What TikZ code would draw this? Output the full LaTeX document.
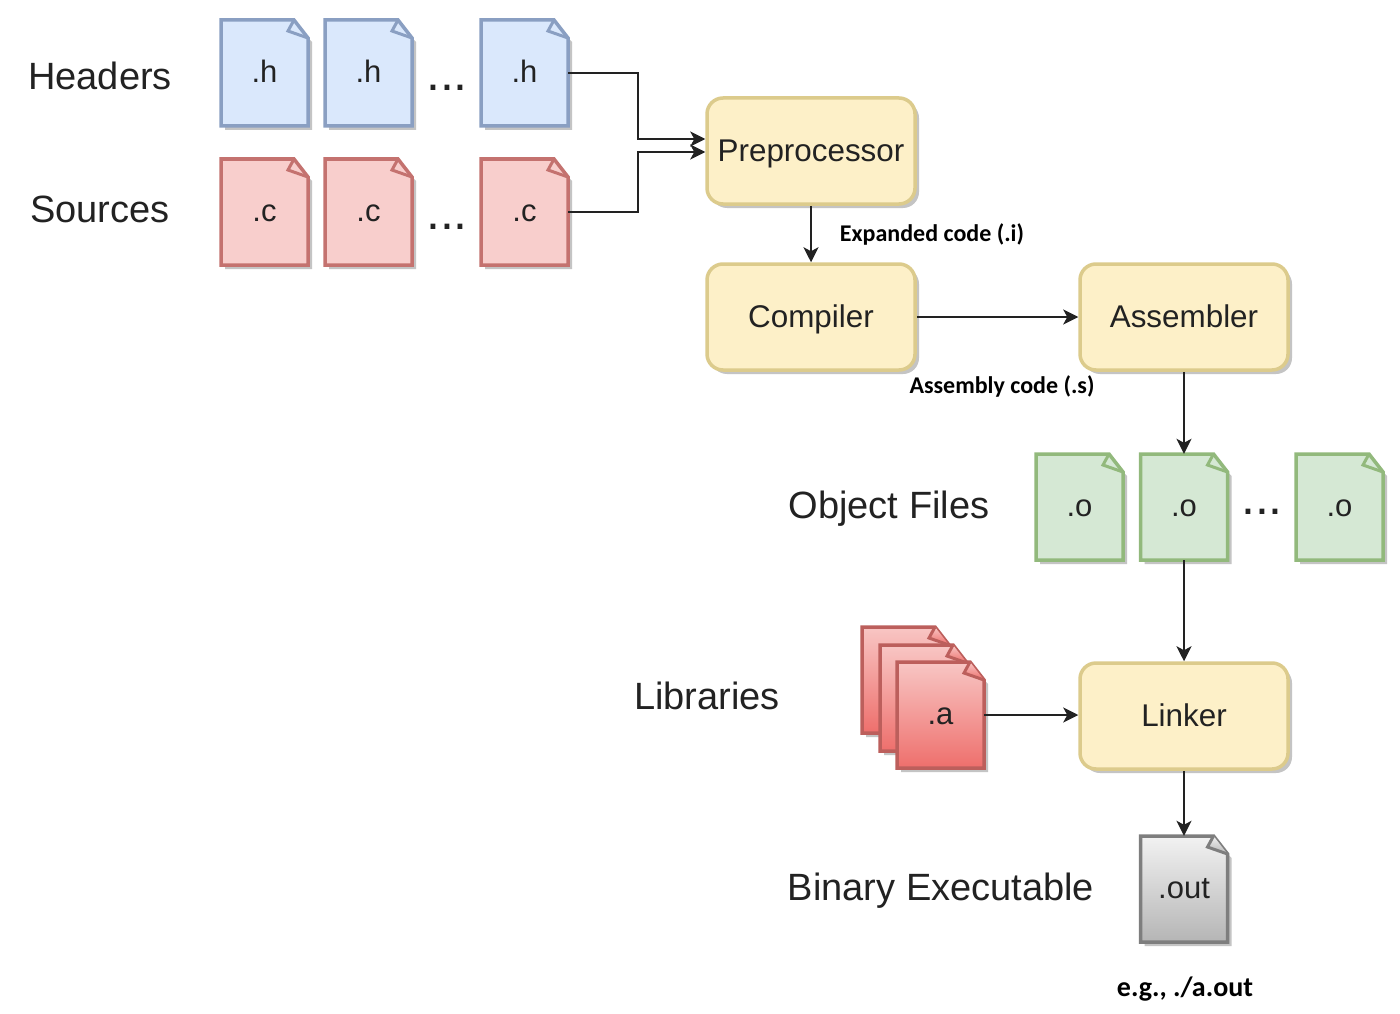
\documentclass[tikz,border=0pt]{standalone}
\usepackage{fontspec}
\setmainfont{Liberation Sans}
\newfontfamily\lblfont{Carlito}[BoldFont={Carlito Bold}]
\usetikzlibrary{arrows.meta,calc}
\definecolor{inkc}{HTML}{222222}
\definecolor{shadowc}{HTML}{C4C4C4}
\tikzset{
  x=1pt,y=-1pt,
  docbody/.style={line width=3.5pt,line join=miter},
  bluedoc/.style={docbody,draw=bluedraw,fill=bluefill},
  reddoc/.style={docbody,draw=reddraw,fill=redfill},
  greendoc/.style={docbody,draw=greendraw,fill=greenfill},
  libdoc/.style={docbody,draw=libdraw,top color=libtop,bottom color=libbot},
  graydoc/.style={docbody,draw=graydraw,top color=graytop,bottom color=graybot},
  doclabel/.style={inner sep=0pt,minimum width=87pt,minimum height=106pt,text height=19pt,text depth=0pt,
     font=\fontsize{31}{32}\selectfont,text=inkc},
  stagebox/.style={rounded corners=16pt,draw=stagedraw,line width=3.5pt,fill=stagefill,
     minimum width=208pt,minimum height=106pt,inner sep=0pt,text height=21.5pt,text depth=0pt,
     font=\fontsize{31.4}{34}\selectfont,text=inkc},
  grouplabel/.style={inner sep=0pt,text height=26.5pt,text depth=0pt,font=\fontsize{38}{40}\selectfont,text=inkc},
  dotslabel/.style={inner sep=0pt,font=\fontsize{50}{50}\selectfont,text=inkc},
  notelabel/.style={inner sep=0pt,font=\lblfont\bfseries\fontsize{24}{26}\selectfont,text=black},
  notebig/.style={notelabel,font=\lblfont\bfseries\fontsize{28}{30}\selectfont},
  flow/.style={line width=2pt,draw=inkc,-{Stealth[length=15pt,width=15pt,inset=4pt]}},
}
\definecolor{bluedraw}{HTML}{8A9FC2}\definecolor{bluefill}{HTML}{DAE8FC}
\definecolor{reddraw}{HTML}{C4726F}\definecolor{redfill}{HTML}{F8CECC}
\definecolor{greendraw}{HTML}{92B97C}\definecolor{greenfill}{HTML}{D5E8D4}
\definecolor{libdraw}{HTML}{BC5F5C}\definecolor{libtop}{HTML}{F8C6C4}\definecolor{libbot}{HTML}{EE6F6C}
\definecolor{graydraw}{HTML}{7E7E7E}\definecolor{graytop}{HTML}{F2F2F2}\definecolor{graybot}{HTML}{B5B5B5}
\definecolor{stagedraw}{HTML}{DCCB8C}\definecolor{stagefill}{HTML}{FDF0C8}
\newcommand\docnode[5]{%
  \begin{scope}[shift={(#2,#3)}]
    \fill[shadowc] (4,4) -- (74,4) -- (91,22) -- (91,110) -- (4,110) -- cycle;
    \path[#4] (0,0) -- (73,0) -- (87,18) -- (87,106) -- (0,106) -- cycle;
    \path[#4,fill=none,line width=3pt] (73,0) -- (67,11) -- (87,18);
    \node[doclabel] (#1) at (43.5,53) {#5};
  \end{scope}}
\begin{document}
\begin{tikzpicture}
\useasboundingbox (0,0) rectangle (1400,1014);
\fill[white] (0,0) rectangle (1400,1014);

% group labels
\node[grouplabel] (lhead) at (100,76) {Headers};
\node[grouplabel] (lsrc) at (100,209) {Sources};
\node[grouplabel] (lobj) at (889,505) {Object Files};
\node[grouplabel] (llib) at (707,696) {Libraries};
\node[grouplabel] (lbin) at (941,887) {Binary Executable};

% headers
\docnode{h1}{221}{20}{bluedoc}{.h}
\docnode{h2}{325}{20}{bluedoc}{.h}
\node[dotslabel] (dh) at (447,88) {...};
\docnode{h3}{481}{20}{bluedoc}{.h}
% sources
\docnode{c1}{221}{159}{reddoc}{.c}
\docnode{c2}{325}{159}{reddoc}{.c}
\node[dotslabel] (dc) at (447,227) {...};
\docnode{c3}{481}{159}{reddoc}{.c}
% objects
\docnode{o1}{1036}{454}{greendoc}{.o}
\docnode{o2}{1140.5}{454}{greendoc}{.o}
\node[dotslabel] (do) at (1262,512) {...};
\docnode{o3}{1296}{454}{greendoc}{.o}
% libraries
\docnode{a1}{862}{627}{libdoc}{}
\docnode{a2}{880}{645}{libdoc}{}
\docnode{a3}{897}{662}{libdoc}{.a}
% output
\docnode{out}{1140.5}{836}{graydoc}{.out}

% stages
\foreach \nm/\cx/\cy/\tx in {pre/811/151/Preprocessor,comp/811/317/Compiler,asm/1184/317/Assembler,link/1184/716/Linker}{
  \fill[shadowc,rounded corners=16pt] (\cx-100,\cy-49) rectangle (\cx+108,\cy+57);
  \node[stagebox] (\nm) at (\cx,\cy) {\tx};
}

% notes
\node[notelabel] (nexp) at (932,234) {Expanded code (.i)};
\node[notelabel] (nasm) at (1002,386) {Assembly code (.s)};
\node[notebig] (nout) at (1185,989) {e.g., ./a.out};

% connectors
\coordinate (preh) at ($(pre.west)+(0,-12)$);
\coordinate (prec) at ($(pre.west)+(0,1)$);
\coordinate (bendh) at (638,139);
\coordinate (bendc) at (638,152);
\draw[flow] (h3.east) -| (bendh) -- (preh);
\draw[flow] (c3.east) -| (bendc) -- (prec);
\draw[flow] (pre.south) -- (comp.north);
\draw[flow] (comp.east) -- (asm.west);
\draw[flow] (asm.south) -- (o2.north);
\draw[flow] (o2.south) -- (link.north);
\draw[flow] (a3.east) -- (a3.east -| link.west);
\draw[flow] (link.south) -- (out.north);
\end{tikzpicture}
\end{document}
